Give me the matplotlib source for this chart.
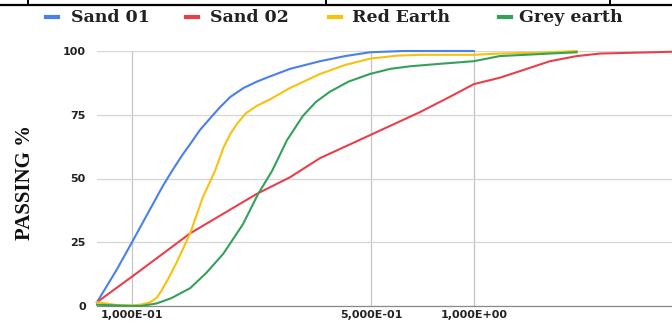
import matplotlib
matplotlib.use('Agg')
import matplotlib.pyplot as plt
from matplotlib.lines import Line2D

# Courbes granulométriques (taille en mm, % passant)
noms = ['Sand 01', 'Sand 02', 'Red Earth', 'Grey earth']
couleurs = ['#4a80ec', '#e8404a', '#f7c10c', '#34a15a']

x_sand01 = [0.079, 0.09, 0.1, 0.113, 0.123, 0.131, 0.14, 0.148, 0.158, 0.169, 0.181, 0.194, 0.212, 0.232,
            0.253, 0.290, 0.355, 0.42, 0.497, 0.62, 1.0]
y_sand01 = [1.5, 14, 25, 38, 47, 53, 59, 63.5, 69, 73.5, 78, 82, 85.5, 88,
            90, 93, 96, 98, 99.5, 100, 100]

x_sand02 = [0.079, 0.1, 0.148, 0.232, 0.290, 0.355, 0.497, 0.695, 0.85, 1.0, 1.19, 1.43, 1.67, 2.0, 2.34, 3.8]
y_sand02 = [1.5, 11.5, 28.5, 44, 50.5, 58, 67, 76, 82, 87, 89.5, 93, 96, 98, 99, 99.7]

x_red_earth = [0.079, 0.09, 0.1, 0.107, 0.113, 0.118, 0.122, 0.128, 0.135, 0.148, 0.161, 0.175, 0.185,
               0.194, 0.203, 0.215, 0.232, 0.253, 0.290, 0.355, 0.42, 0.497, 0.6, 0.695, 1.0, 1.19, 1.67, 2.0]
y_red_earth = [1.5, 0.4, 0.2, 0.6, 1.5, 3.2, 6, 11, 17, 28.5, 42.5, 53, 62,
               67.5, 71.5, 75.5, 78.5, 81, 85.5, 91, 94.5, 97, 98.2, 98.5, 98.5, 99, 99.5, 100]

x_grey_earth = [0.079, 0.095, 0.106, 0.118, 0.13, 0.148, 0.165, 0.185, 0.211, 0.234, 0.257, 0.284, 0.316,
                0.345, 0.379, 0.43, 0.497, 0.57, 0.65, 0.8, 1.0, 1.19, 1.67, 2.0]
y_grey_earth = [0.5, 0.1, 0, 1, 3, 7, 13, 20.5, 32, 44, 53, 65, 74.5,
                80, 84, 88, 91, 93, 94, 95, 96, 98, 99, 99.5]

graduations_x = [0.1, 0.5, 1.0]
etiquettes_x = ['1,000E-01', '5,000E-01', '1,000E+00']
graduations_y = [0, 25, 50, 75, 100]

W, H = 672, 324
fig = plt.figure(figsize=(W / 100, H / 100), dpi=100)
ax = fig.add_axes([97 / W, 1 - 306 / H, 1 - 97 / W, (306 - 51) / H])

series = [(x_sand01, y_sand01), (x_sand02, y_sand02), (x_red_earth, y_red_earth), (x_grey_earth, y_grey_earth)]
for (xs, ys), c in zip(series, couleurs):
    ax.plot(xs, ys, color=c, lw=1.5, clip_on=False, zorder=3, solid_joinstyle='round')

ax.set_xscale('log')
ax.set_xlim(0.079, 3.8)
ax.set_ylim(0, 100)
ax.set_xticks(graduations_x)
ax.set_xticklabels(etiquettes_x)
ax.minorticks_off()
ax.set_yticks(graduations_y)
ax.tick_params(length=0, labelsize=8, colors='#222222')
ax.tick_params(axis='y', pad=8)
ax.tick_params(axis='x', pad=3)
for lab in ax.get_xticklabels() + ax.get_yticklabels():
    lab.set_fontweight('bold')

ax.grid(axis='y', color='#d6d6d6', lw=0.9)
ax.grid(axis='x', color='#c4c4c4', lw=0.9)
for s in ['top', 'right', 'left']:
    ax.spines[s].set_visible(False)
ax.spines['bottom'].set_color('#8a8a8a')
ax.spines['bottom'].set_linewidth(0.9)

# titre axe y
fig.text(25 / W, 1 - 182 / H, 'PASSING %', rotation=90, ha='center', va='center',
         family='Liberation Serif', fontweight='bold', fontsize=15, color='#111111')

# légende faite à la main
pos_tiret = [52, 192, 335, 505]
pos_texte = [71, 210, 352, 519]
for nom, c, xt, xx in zip(noms, couleurs, pos_tiret, pos_texte):
    fig.add_artist(Line2D([(xt - 6) / W, (xt + 6) / W], [1 - 17 / H, 1 - 17 / H],
                          color=c, lw=3, transform=fig.transFigure))
    fig.text(xx / W, 1 - 17 / H, nom, ha='left', va='center', family='DejaVu Serif',
             fontweight='bold', fontsize=12.5, color='#222222')

# restes du tableau en haut
fig.add_artist(Line2D([0, 1], [1 - 5 / H, 1 - 5 / H], color='black', lw=1.6, transform=fig.transFigure))
for xv in [28, 326, 610]:
    fig.add_artist(Line2D([xv / W, xv / W], [1 - 5 / H, 1], color='black', lw=1.4, transform=fig.transFigure))

fig.savefig('out.png', dpi=100)
